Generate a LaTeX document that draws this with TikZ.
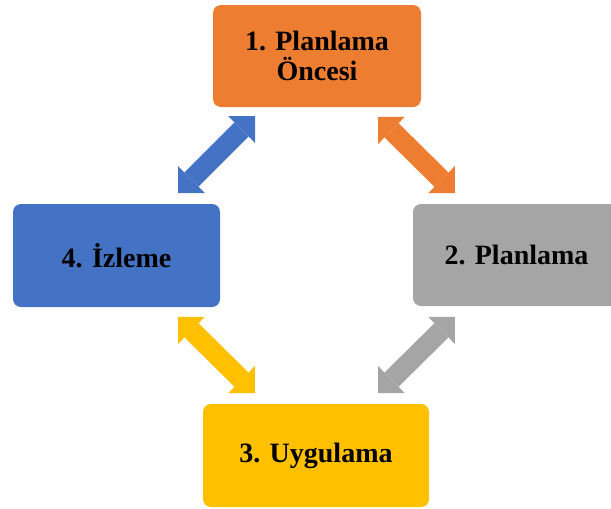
\documentclass[tikz,border=0pt]{standalone}
\usepackage{fontspec}
\setmainfont{Liberation Serif}
\usetikzlibrary{arrows.meta}
\definecolor{phaseOrange}{HTML}{ED7D31}
\definecolor{phaseGray}{HTML}{A5A5A5}
\definecolor{phaseGold}{HTML}{FFC000}
\definecolor{phaseBlue}{HTML}{4472C4}
\begin{document}
\begin{tikzpicture}[x=1pt,y=-1pt,
  stagebox/.style={fill=#1, rounded corners=8pt, inner sep=0pt,
    font=\fontsize{28}{30}\selectfont\bfseries, align=center, text=black},
  bigtip/.tip={Triangle[width=38pt,length=19pt,line width=0pt]},
  link/.style={draw=#1, line width=20pt, bigtip-bigtip}]
\useasboundingbox (0,0) rectangle (611,509);
\clip (0,0) rectangle (611,509);

% the four phases of the cycle
\node[stagebox=phaseOrange, minimum width=208pt, minimum height=102pt] (pre) at (317,56) {1. Planlama\\Öncesi};
\node[stagebox=phaseGray, minimum width=207pt, minimum height=102pt] (plan) at (516.5,255) {2. Planlama};
\node[stagebox=phaseGold, minimum width=226pt, minimum height=103pt] (apply) at (316,455.5) {3. Uygulama};
\node[stagebox=phaseBlue, minimum width=207pt, minimum height=103pt] (watch) at (116.5,255.5) {4. İzleme};

% arrow tip points between neighbouring phases
\coordinate (o1) at (378,117);
\coordinate (o2) at (455,193);
\coordinate (g1) at (455,317);
\coordinate (g2) at (378,393);
\coordinate (y1) at (255,393);
\coordinate (y2) at (178,317);
\coordinate (b1) at (178,193);
\coordinate (b2) at (255,116);

% two-way links
\draw[link=phaseOrange] (o1) -- (o2);
\draw[link=phaseGray] (g1) -- (g2);
\draw[link=phaseGold] (y1) -- (y2);
\draw[link=phaseBlue] (b1) -- (b2);
\end{tikzpicture}
\end{document}
